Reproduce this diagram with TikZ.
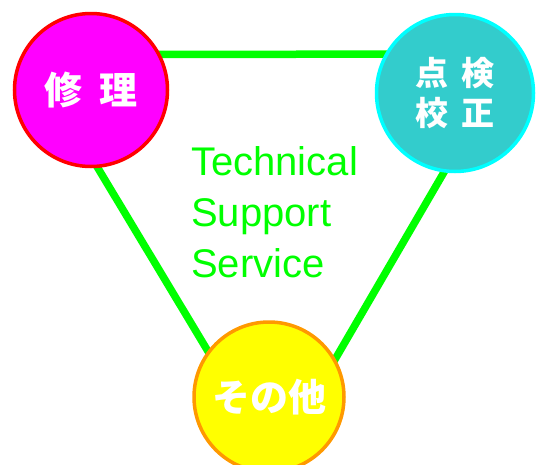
\documentclass[tikz,border=0pt]{standalone}
\usepackage{fontspec}
\setmainfont{Liberation Sans}
\newfontfamily\jpfont{Noto Sans CJK JP}
\usetikzlibrary{backgrounds}
\definecolor{pinkfill}{RGB}{255,0,255}
\definecolor{ringred}{RGB}{255,0,0}
\definecolor{tealfill}{RGB}{51,204,204}
\definecolor{ringcyan}{RGB}{0,255,255}
\definecolor{yellowfill}{RGB}{255,255,0}
\definecolor{ringorange}{RGB}{255,153,0}
\definecolor{linkgreen}{RGB}{0,255,0}

\begin{document}
\begin{tikzpicture}[x=1pt, y=-1pt,
  ring/.style={circle, line width=3.5pt, minimum size=#1, inner sep=0pt, text=white, align=center},
  link/.style={line width=7.5pt, linkgreen, shorten <=-10pt, shorten >=-10pt}]
  \useasboundingbox (0,0) rectangle (538,464);

  \node[ring=153pt, fill=pinkfill, draw=ringred, font=\jpfont\bfseries\fontsize{38}{40}\selectfont] (repair) at (91,90) {修\hspace{0.45em}理};
  \node[ring=157pt, fill=tealfill, draw=ringcyan, font=\jpfont\bfseries\fontsize{33}{40}\selectfont] (check) at (455,93) {点\hspace{0.4em}検\\校\hspace{0.4em}正};
  \node[ring=150pt, fill=yellowfill, draw=ringorange, font=\jpfont\bfseries\fontsize{38}{40}\selectfont] (other) at (269,397) {その他};

  \node[anchor=north west, inner sep=0pt, align=left, text=linkgreen, font=\fontsize{40}{51}\selectfont] (tss) at (191,146) {Technical\\Support\\Service};

  \begin{scope}[on background layer]
  \draw[link] (repair.27) -- (check.151.5);
  \draw[link] (repair.275) -- (other.143.6);
  \draw[link] (check.262.6) -- (other.30);
  \end{scope}
\end{tikzpicture}
\end{document}
